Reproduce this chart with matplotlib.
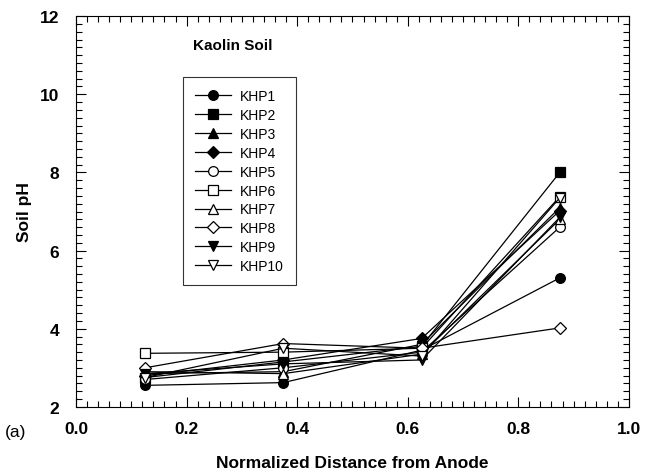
import matplotlib
matplotlib.use('Agg')
from matplotlib import pyplot as plt
from matplotlib.ticker import MultipleLocator

plt.rcParams['font.family'] = ['Liberation Sans', 'DejaVu Sans']

distance = [0.125, 0.375, 0.625, 0.875]
labels = ['KHP1', 'KHP2', 'KHP3', 'KHP4', 'KHP5', 'KHP6', 'KHP7', 'KHP8', 'KHP9', 'KHP10']
khp1 = [2.55, 2.62, 3.45, 5.30]
khp2 = [2.75, 3.15, 3.55, 8.00]
khp3 = [2.85, 2.90, 3.60, 7.10]
khp4 = [2.80, 3.20, 3.75, 7.02]
khp5 = [2.70, 3.00, 3.40, 6.60]
khp6 = [3.37, 3.40, 3.50, 7.38]
khp7 = [2.90, 2.85, 3.35, 6.80]
khp8 = [3.00, 3.62, 3.50, 4.02]
khp9 = [2.85, 3.10, 3.20, 6.85]
khp10 = [2.75, 3.50, 3.30, 7.35]
series = [khp1, khp2, khp3, khp4, khp5, khp6, khp7, khp8, khp9, khp10]

markers = ['o', 's', '^', 'D', 'o', 's', '^', 'D', 'v', 'v']
filled = [True, True, True, True, False, False, False, False, True, False]
sizes = [7, 6.5, 7, 6, 7, 6.5, 7, 6, 7, 7]

fig = plt.figure(figsize=(6.47, 4.77), dpi=100)
ax = fig.add_axes([0.1175, 0.145, 0.8545, 0.819])

for ys, lab, m, f, s in zip(series, labels, markers, filled, sizes):
    ax.plot(distance, ys, color='black', lw=0.9, marker=m, markersize=s,
            markerfacecolor='black' if f else 'white', markeredgecolor='black',
            markeredgewidth=0.9, label=lab)

ax.set_xlim(0, 1)
ax.set_ylim(2, 12)
ax.xaxis.set_major_locator(MultipleLocator(0.2))
ax.xaxis.set_minor_locator(MultipleLocator(0.02))
ax.yaxis.set_major_locator(MultipleLocator(2))
ax.yaxis.set_minor_locator(MultipleLocator(0.2))
ax.tick_params(which='both', direction='in', top=True, right=True, width=0.8)
ax.tick_params(which='major', length=7, labelsize=12.5)
ax.tick_params(axis='x', which='major', pad=10)
ax.tick_params(axis='y', which='major', pad=12)
ax.tick_params(which='minor', length=4)
ax.xaxis.set_major_formatter(matplotlib.ticker.FormatStrFormatter('%.1f'))
ax.yaxis.set_major_formatter(matplotlib.ticker.FormatStrFormatter('%d'))
for t in ax.get_xticklabels() + ax.get_yticklabels():
    t.set_fontweight('bold')

ax.set_xlabel('Normalized Distance from Anode', fontsize=12.5, fontweight='bold', labelpad=14)
ax.set_ylabel('Soil pH', fontsize=12.5, fontweight='bold', labelpad=6)
ax.text(0.211, 0.915, 'Kaolin Soil', transform=ax.transAxes, fontsize=11, fontweight='bold')
fig.text(0.007, 0.083, '(a)', fontsize=12.5)

leg = ax.legend(loc='upper left', bbox_to_anchor=(0.193, 0.845), fontsize=10,
                frameon=True, fancybox=False, edgecolor='black', handlelength=2.6,
                labelspacing=0.35, borderpad=0.9, handletextpad=0.6, borderaxespad=0)
leg.get_frame().set_linewidth(0.8)

fig.savefig('out.png', dpi=100)
